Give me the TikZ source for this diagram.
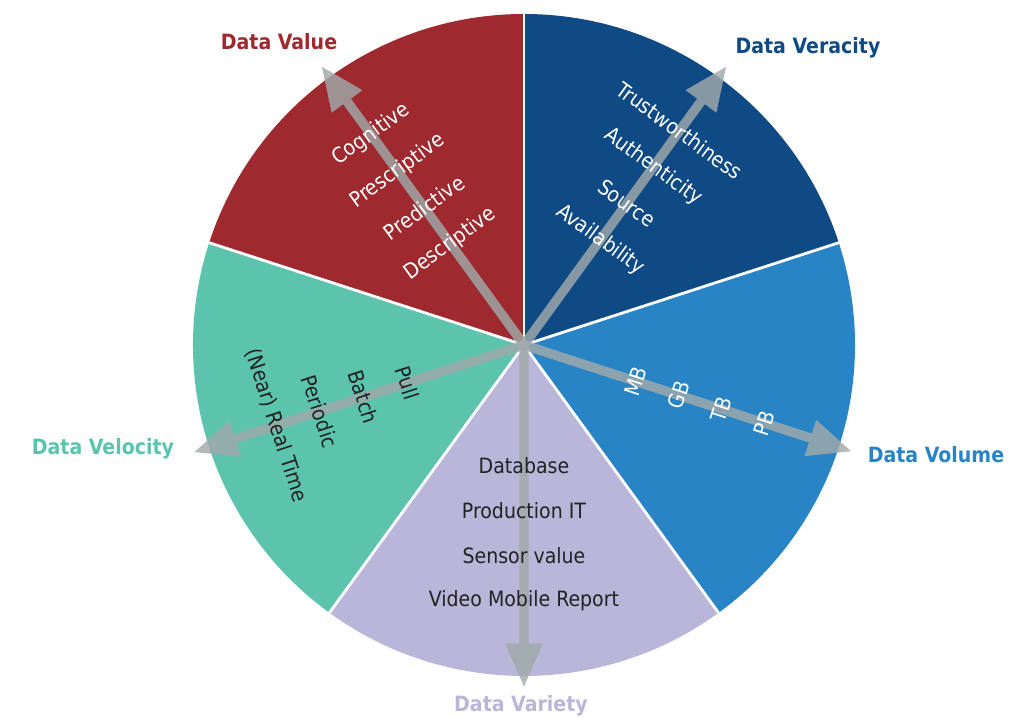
\documentclass[tikz,border=0pt]{standalone}
\usepackage{fontspec}
\setmainfont{DejaVu Sans Condensed}
\usepackage{tikz}
\usetikzlibrary{arrows.meta,positioning,calc}
\usepackage{xcolor}

\definecolor{valred}{RGB}{158,41,47}
\definecolor{verblue}{RGB}{15,74,132}
\definecolor{volblue}{RGB}{41,132,198}
\definecolor{varlav}{RGB}{186,182,218}
\definecolor{velteal}{RGB}{92,195,173}
\definecolor{arrgray}{RGB}{160,170,170}
\definecolor{darktext}{RGB}{34,34,34}

\begin{document}
\begin{tikzpicture}[
    sector/.style={draw=white, line width=1.6pt},
    axis/.style={draw=arrgray, line width=5.4pt, -{Triangle[width=20pt,length=25pt]}},
    glass/.style={transparency group, opacity=0.82},
    item/.style={font=\fontsize{12}{14}\selectfont},
    title/.style={font=\fontsize{12}{14}\selectfont\bfseries}
]
    \useasboundingbox (-10.48,-7.46) rectangle (10.0,6.9);
    \coordinate (o) at (0,0);

    % sectors
    \fill[valred] (o) -- (90:6.62) arc (90:162:6.62) -- cycle;
    \fill[verblue] (o) -- (18:6.62) arc (18:90:6.62) -- cycle;
    \fill[volblue] (o) -- (-54:6.62) arc (-54:18:6.62) -- cycle;
    \fill[varlav] (o) -- (-126:6.62) arc (-126:-54:6.62) -- cycle;
    \fill[velteal] (o) -- (162:6.62) arc (162:234:6.62) -- cycle;

    \draw[sector] (o) -- (90:6.62);
    \draw[sector] (o) -- (18:6.62);
    \draw[sector] (o) -- (-54:6.62);
    \draw[sector] (o) -- (-126:6.62);
    \draw[sector] (o) -- (162:6.62);

    % arrows
    \coordinate (tval) at (126:6.9);
    \coordinate (tver) at (54:6.9);
    \coordinate (tvol) at (-18:6.9);
    \coordinate (tvar) at (-90:6.85);
    \coordinate (tvel) at (198:6.95);
    \begin{scope}[glass]
        \draw[axis] (o) -- (tval);
    \end{scope}
    \begin{scope}[glass]
        \draw[axis] (o) -- (tver);
    \end{scope}
    \begin{scope}[glass]
        \draw[axis] (o) -- (tvol);
    \end{scope}
    \begin{scope}[glass]
        \draw[axis] (o) -- (tvar);
    \end{scope}
    \begin{scope}[glass]
        \draw[axis] (o) -- (tvel);
    \end{scope}

    % Value
    \node[item, white, rotate=36] (desc) at (126:2.5) {Descriptive};
    \node[item, white, rotate=36] (pred) at (126:3.4) {Predictive};
    \node[item, white, rotate=36] (pres) at (126:4.3) {Prescriptive};
    \node[item, white, rotate=36] (cogn) at (126:5.2) {Cognitive};

    % Veracity
    \node[item, white, rotate=-36] (avail) at (54:2.6) {Availability};
    \node[item, white, rotate=-36] (src) at (54:3.5) {Source};
    \node[item, white, rotate=-36] (auth) at (54:4.4) {Authenticity};
    \node[item, white, rotate=-36] (trust) at (54:5.3) {Trustworthiness};

    % Volume
    \node[item, white, rotate=72] (mb) at (-18:2.35) {MB};
    \node[item, white, rotate=72] (gb) at (-18:3.25) {GB};
    \node[item, white, rotate=72] (tb) at (-18:4.15) {TB};
    \node[item, white, rotate=72] (pb) at (-18:5.05) {PB};

    % Variety
    \node[item, darktext] (db) at (-90:2.42) {Database};
    \node[item, darktext] (prod) at (-90:3.32) {Production IT};
    \node[item, darktext] (sens) at (-90:4.22) {Sensor value};
    \node[item, darktext] (video) at (-90:5.12) {Video Mobile Report};

    % Velocity
    \node[item, darktext, rotate=-72] (pull) at (198:2.45) {Pull};
    \node[item, darktext, rotate=-72] (batch) at (198:3.37) {Batch};
    \node[item, darktext, rotate=-72] (period) at (198:4.29) {Periodic};
    \node[item, darktext, rotate=-72] (rt) at (198:5.21) {(Near) Real Time};

    % titles
    \node[title, valred] (value) at (-4.9,6.06) {Data Value};
    \node[title, verblue] (veracity) at (5.68,5.94) {Data Veracity};
    \node[title, volblue] (volume) at (8.24,-2.2) {Data Volume};
    \node[title, varlav] (variety) at (-0.06,-7.22) {Data Variety};
    \node[title, velteal] (velocity) at (-8.42,-2.08) {Data Velocity};
\end{tikzpicture}
\end{document}
